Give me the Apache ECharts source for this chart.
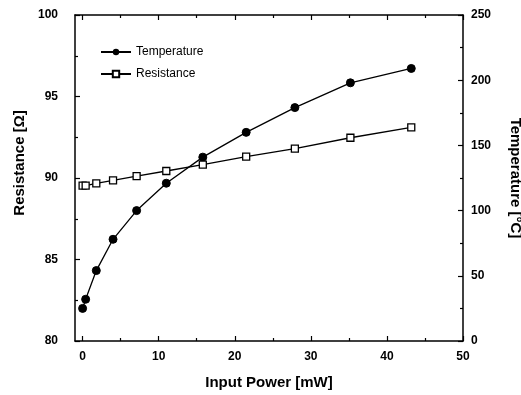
<!DOCTYPE html>
<html>
<head>
<meta charset="utf-8">
<script src="https://cdn.jsdelivr.net/npm/echarts@6/dist/echarts.min.js"></script>
<style>html,body{margin:0;padding:0;background:#fff;}#c{width:521px;height:395px;}</style>
</head>
<body>
<div id="c"></div>
<script>
var power = [0, 0.4, 1.8, 4.0, 7.1, 11.0, 15.8, 21.5, 27.9, 35.2, 43.2];
var temperature = [25, 32, 54, 78, 100, 121, 141, 160, 179, 198, 209];
var resistance = [89.53, 89.53, 89.67, 89.86, 90.12, 90.43, 90.82, 91.31, 91.80, 92.47, 93.11];
var xMajorTicks = [0, 10, 20, 30, 40, 50];
var xMinorTicks = [5, 15, 25, 35, 45];

var FONT = '"Liberation Sans Narrow", "Liberation Sans", Arial, sans-serif';
var tempData = power.map(function (p, i) { return [p, temperature[i]]; });
var resData = power.map(function (p, i) { return [p, resistance[i]]; });

var chart = echarts.init(document.getElementById('c'));
var axisLine = { show: true, onZero: false, lineStyle: { color: '#000', width: 1.5 } };
function hiddenX(pos, vals, len) {
  return {
    type: 'value', min: -1, max: 50, position: pos,
    axisLine: { show: false, onZero: false },
    axisTick: { show: true, inside: true, length: len, customValues: vals, lineStyle: { color: '#000', width: 1.2 } },
    axisLabel: { show: false }, splitLine: { show: false }
  };
}
chart.setOption({
  animation: false,
  backgroundColor: '#fff',
  grid: { left: 75, right: 58, top: 15, bottom: 54, outerBoundsMode: 'none', containLabel: false },
  legend: {
    orient: 'vertical', left: 95, top: 41, itemWidth: 30, itemHeight: 8, itemGap: 10,
    data: ['Temperature', 'Resistance'],
    textStyle: { fontFamily: FONT, fontSize: 12, color: '#000' }
  },
  xAxis: [
    {
      type: 'value', min: -1, max: 50, position: 'bottom',
      name: 'Input Power [mW]', nameLocation: 'middle', nameGap: 34,
      nameTextStyle: { fontFamily: FONT, fontSize: 15, fontWeight: 'bold', color: '#000' },
      axisLine: axisLine,
      axisTick: { show: true, inside: true, length: 5, customValues: xMajorTicks, lineStyle: { color: '#000', width: 1.2 } },
      axisLabel: { customValues: xMajorTicks, margin: 10, fontFamily: FONT, fontSize: 12, fontWeight: 'bold', color: '#000' },
      splitLine: { show: false }
    },
    hiddenX('bottom', xMinorTicks, 3),
    {
      type: 'value', min: -1, max: 50, position: 'top',
      axisLine: axisLine,
      axisTick: { show: true, inside: true, length: 5, customValues: xMajorTicks, lineStyle: { color: '#000', width: 1.2 } },
      axisLabel: { show: false }, splitLine: { show: false }
    },
    hiddenX('top', xMinorTicks, 3)
  ],
  yAxis: [
    {
      type: 'value', min: 80, max: 100, interval: 5, position: 'left',
      name: 'Resistance [\u03A9]', nameLocation: 'middle', nameGap: 37,
      nameTextStyle: { fontFamily: FONT, fontSize: 15, fontWeight: 'bold', color: '#000', padding: [0, 0, 0, 30] },
      axisLine: axisLine,
      axisTick: { show: true, inside: true, length: 5, lineStyle: { color: '#000', width: 1.2 } },
      minorTick: { show: true, splitNumber: 2, length: 3, lineStyle: { color: '#000', width: 1.2 } },
      axisLabel: { margin: 17, fontFamily: FONT, fontSize: 12, fontWeight: 'bold', color: '#000' },
      splitLine: { show: false }
    },
    {
      type: 'value', min: 0, max: 250, interval: 50, position: 'right',
      name: 'Temperature [\u00B0C]', nameLocation: 'middle', nameGap: 45, nameRotate: -90,
      nameTextStyle: { fontFamily: FONT, fontSize: 15, fontWeight: 'bold', color: '#000' },
      axisLine: axisLine,
      axisTick: { show: true, inside: true, length: 5, lineStyle: { color: '#000', width: 1.2 } },
      minorTick: { show: true, splitNumber: 2, length: 3, lineStyle: { color: '#000', width: 1.2 } },
      axisLabel: { margin: 8, fontFamily: FONT, fontSize: 12, fontWeight: 'bold', color: '#000' },
      splitLine: { show: false }
    }
  ],
  series: [
    {
      name: 'Temperature', type: 'line', xAxisIndex: 0, yAxisIndex: 1, data: tempData,
      symbol: 'circle', symbolSize: 8,
      lineStyle: { color: '#000', width: 1.3 },
      itemStyle: { color: '#000', borderColor: '#000' }
    },
    {
      name: 'Resistance', type: 'line', xAxisIndex: 0, yAxisIndex: 0, data: resData,
      symbol: 'rect', symbolSize: 7,
      lineStyle: { color: '#000', width: 1.3 },
      itemStyle: { color: '#fff', borderColor: '#000', borderWidth: 1.3 }
    }
  ]
});
</script>
</body>
</html>
